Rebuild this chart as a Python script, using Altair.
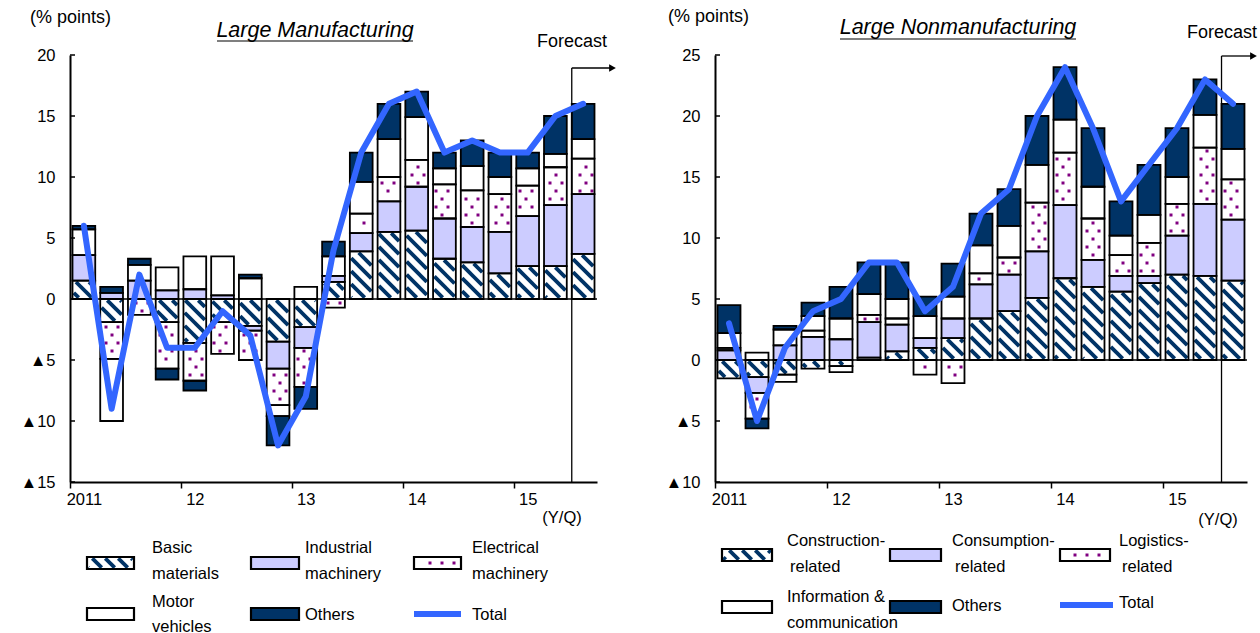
import json
import math

import altair as alt
import pandas as pd

# ---------------------------------------------------------------- data
quarters = [
    "2011Q1", "2011Q2", "2011Q3", "2011Q4",
    "2012Q1", "2012Q2", "2012Q3", "2012Q4",
    "2013Q1", "2013Q2", "2013Q3", "2013Q4",
    "2014Q1", "2014Q2", "2014Q3", "2014Q4",
    "2015Q1", "2015Q2", "2015Q3",
]
year_labels = ["2011", "12", "13", "14", "15"]
forecast_quarter = "2015Q3"

# Large manufacturing: contributions to the DI change (% points)
mfg_basic = [1.5, -1.9, 0.0, -1.9, -3.6, -1.9, -2.2, -3.5, -2.3, 1.4, 3.9, 5.5, 5.6, 3.3, 3.0, 2.1, 2.7, 2.7, 3.7]
mfg_industrial = [2.1, 0.5, 1.5, 0.7, 0.8, 0.3, -0.4, -2.2, -1.7, 0.5, 1.5, 2.5, 3.6, 3.3, 2.9, 3.4, 4.1, 5.0, 4.9]
mfg_electrical = [0.0, -3.0, -1.3, -3.8, -3.1, -2.6, -2.4, -3.0, -3.2, -0.7, 1.6, 2.0, 2.2, 2.8, 3.0, 3.1, 2.5, 3.1, 2.9]
mfg_motor = [2.1, -5.1, 1.3, 1.9, 2.7, 3.2, 1.7, -0.9, 1.0, 1.6, 2.6, 3.1, 3.5, 1.3, 2.0, 1.4, 1.4, 1.1, 1.6]
mfg_others = [0.3, 0.5, 0.5, -0.9, -0.8, 0.0, 0.3, -2.4, -1.8, 1.2, 2.4, 2.9, 2.1, 1.3, 2.1, 2.0, 1.3, 3.1, 2.9]
mfg_total = [6, -9, 2, -4, -4, -1, -3, -12, -8, 4, 12, 16, 17, 12, 13, 12, 12, 15, 16]
mfg_labels = [["Basic", "materials"], ["Industrial", "machinery"], ["Electrical", "machinery"],
              ["Motor", "vehicles"], ["Others"], ["Total"]]

# Large nonmanufacturing
non_construction = [-1.5, -1.4, -1.2, -0.7, -0.5, 0.2, 0.7, 1.0, 1.8, 3.4, 4.0, 5.1, 6.7, 6.0, 5.6, 6.3, 7.0, 6.9, 6.5]
non_consumption = [0.8, -1.3, 1.2, 1.9, 1.7, 2.9, 2.2, 0.8, 1.6, 2.8, 3.0, 3.8, 6.0, 2.2, 1.3, 0.6, 3.2, 5.9, 5.0]
non_logistics = [0.2, -2.1, -0.6, 0.5, -0.5, 0.6, 0.5, -1.2, -1.9, 0.9, 1.4, 4.0, 4.3, 3.4, 1.7, 2.7, 2.6, 4.6, 3.3]
non_info = [1.2, 0.6, 1.3, 1.2, 1.7, 1.7, 1.6, 1.8, 1.8, 2.3, 2.6, 3.1, 2.7, 2.6, 1.6, 2.3, 2.2, 2.7, 2.5]
non_others = [2.3, -0.8, 0.3, 1.1, 2.6, 2.6, 3.0, 1.6, 2.7, 2.6, 3.0, 4.0, 4.3, 4.8, 2.8, 4.1, 4.0, 2.9, 3.7]
non_total = [3, -5, 1, 4, 5, 8, 8, 4, 6, 12, 14, 20, 24, 19, 13, 16, 19, 23, 21]
non_labels = [["Construction-", "related"], ["Consumption-", "related"], ["Logistics-", "related"],
              ["Information &", "communication"], ["Others"], ["Total"]]

# ---------------------------------------------------------------- style
NAVY = "#003366"
LAVENDER = "#CCCCFF"
PURPLE = "#800080"
BLUE = "#3366FF"
FONT = "Liberation Sans"
FILLS = {"hatch": "white", "lav": LAVENDER, "dots": "white", "white": "white", "navy": NAVY}
STYLES = ["hatch", "lav", "dots", "white", "navy"]

BAR_PAD = 0.09          # gap on each side of a bar, in quarters
HATCH_PERIOD = 13       # px between diagonal stripes
HATCH_WIDTH = 3.8
DOT_DX, DOT_DY = 12, 8  # px grid of the dotted fill


def hatch_segments(px0, px1, pt, pb, inset=1.3):
    """Diagonal (top-left to bottom-right) stripes clipped to a pixel box."""
    x0, x1, t, b = px0 + inset, px1 - inset, pt + inset, pb - inset
    out = []
    if x1 - x0 < 0.5 or b - t < 0.5:
        return out
    k0 = math.floor((t - x1) / HATCH_PERIOD)
    k1 = math.ceil((b - x0) / HATCH_PERIOD)
    for k in range(k0, k1 + 1):
        c = k * HATCH_PERIOD
        xa = max(x0, t - c)
        xb = min(x1, b - c)
        if xb - xa > 0.4:
            out.append((xa, xa + c, xb, xb + c))
    return out


def dot_points(px0, px1, pt, pb, inset=2.5, centred=False):
    """Staggered dot grid inside a pixel box (one centred row for small swatches)."""
    out = []
    if centred:
        rows = [((pt + pb) / 2, 0)]
    else:
        r0 = math.ceil((pt + inset) / DOT_DY)
        r1 = math.floor((pb - inset) / DOT_DY)
        rows = [(r * DOT_DY, DOT_DX / 2 if r % 2 else 0) for r in range(r0, r1 + 1)]
    for ry, off in rows:
        c0 = math.ceil((px0 + inset + 2 - off) / DOT_DX) if centred else math.ceil((px0 + inset - off) / DOT_DX)
        c1 = math.floor((px1 - inset - off) / DOT_DX)
        for c in range(c0, c1 + 1):
            out.append((c * DOT_DX + off, ry))
    return out


def one_row():
    return pd.DataFrame({"k": [0]})


def build_panel(cfg):
    W, H = cfg["W"], cfg["H"]
    ymin, ymax = cfg["ymin"], cfg["ymax"]
    ox, oy = cfg["origin"]
    n = len(quarters)
    kx = W / n
    ky = H / (ymax - ymin)

    def px(x):
        return x * kx

    def py(y):
        return (ymax - y) * ky

    def dx(p):
        return p / kx

    def dy(p):
        return ymax - p / ky

    xs = alt.Scale(domain=[0, n], nice=False, zero=False)
    ys = alt.Scale(domain=[ymin, ymax], nice=False, zero=False)

    segs, stripes, dots = [], [], []

    def add_texture(style, bx0, bx1, bt, bb, small=False):
        if style == "hatch":
            for xa, ya, xb, yb in hatch_segments(bx0, bx1, bt, bb):
                stripes.append({"xa": dx(xa), "ya": dy(ya), "xb": dx(xb), "yb": dy(yb)})
        elif style == "dots":
            for qx, qy in dot_points(bx0, bx1, bt, bb, centred=small):
                dots.append({"dx": dx(qx), "dy": dy(qy)})

    for i, q in enumerate(quarters):
        pos = neg = 0.0
        for (name, vals), style in zip(cfg["series"], STYLES):
            v = vals[i]
            if v == 0:
                continue
            if v > 0:
                y0, y1 = pos, pos + v
                pos = y1
            else:
                y0, y1 = neg, neg + v
                neg = y1
            x0, x1 = i + BAR_PAD, i + 1 - BAR_PAD
            segs.append({"quarter": q, "series": name, "value": v,
                         "x0": x0, "x1": x1, "y0": y0, "y1": y1, "fill": FILLS[style]})
            add_texture(style, px(x0), px(x1), py(max(y0, y1)), py(min(y0, y1)))

    # legend swatches (page pixels -> panel data units)
    leg_boxes, leg_lines, leg_text = [], [], []
    for (lines, style, box, lx, lys) in cfg["legend"]:
        bx0, bx1, bt, bb = box[0] - ox, box[1] - ox, box[2] - oy, box[3] - oy
        if style == "line":
            leg_lines.append({"lx0": dx(bx0), "lx1": dx(bx1), "ly": dy(bt)})
        else:
            leg_boxes.append({"x0": dx(bx0), "x1": dx(bx1), "y0": dy(bt), "y1": dy(bb),
                              "fill": FILLS[style]})
            add_texture(style, bx0, bx1, bt, bb, small=True)
        for j, (txt, ly) in enumerate(zip(lines, lys)):
            shift = 3 if (j > 0 and txt == "related") else 0
            leg_text.append({"tx": dx(lx - ox + shift), "ty": dy(ly - oy), "label": txt})

    seg_df = pd.DataFrame(segs)
    box_df = pd.DataFrame(leg_boxes)
    stripe_df = pd.DataFrame(stripes)
    dot_df = pd.DataFrame(dots)
    line_df = pd.DataFrame({"quarter": quarters, "xc": [i + 0.5 for i in range(n)], "total": cfg["total"]})
    tick_df = pd.DataFrame({"tick": cfg["yticks"]})
    q1_index = [i for i, q in enumerate(quarters) if q.endswith("Q1")]

    x_axis = alt.Axis(values=q1_index,
                      labelExpr=f"{json.dumps(year_labels)}[floor(datum.value / 4)]",
                      tickSize=6, tickWidth=1.5, tickColor="black", grid=False,
                      domainColor="black", domainWidth=2, labelFontSize=16.5, labelFont=FONT,
                      labelColor="black", labelPadding=3, labelOffset=kx / 2,
                      labelFlush=False, labelOverlap=False, title=None)
    y_axis = alt.Axis(values=cfg["yticks"],
                      labelExpr="datum.value < 0 ? '▲' + abs(datum.value) : datum.label",
                      ticks=False, tickSize=0, grid=False, domainColor="black", domainWidth=2,
                      labelFontSize=16.5, labelFont=FONT, labelColor="black", labelPadding=15,
                      labelFlush=False, labelOverlap=False, title=None)

    # every layer carries the same axis definition so the merged axis survives
    def X(f):
        return alt.X(f, scale=xs, axis=x_axis)

    def Y(f):
        return alt.Y(f, scale=ys, axis=y_axis)

    layers = []
    if cfg.get("anchor"):
        layers.append(alt.Chart(one_row()).mark_rect(opacity=0).encode(
            x=alt.value(-ox), x2=alt.value(-ox + 1), y=alt.value(-oy), y2=alt.value(-oy + 1)))

    layers.append(alt.Chart(seg_df).mark_rect(strokeWidth=0).encode(
        x=X("x0:Q"), x2="x1:Q", y=Y("y0:Q"), y2="y1:Q",
        fill=alt.Fill("fill:N", scale=None)))
    layers.append(alt.Chart(box_df).mark_rect(strokeWidth=0).encode(
        x=X("x0:Q"), x2="x1:Q", y=Y("y0:Q"), y2="y1:Q", fill=alt.Fill("fill:N", scale=None)))
    layers.append(alt.Chart(stripe_df).mark_rule(color=NAVY, strokeWidth=HATCH_WIDTH, strokeCap="butt").encode(
        x=X("xa:Q"), y=Y("ya:Q"), x2="xb:Q", y2="yb:Q"))
    layers.append(alt.Chart(dot_df).mark_square(color=PURPLE, size=9, opacity=1).encode(
        x=X("dx:Q"), y=Y("dy:Q")))
    layers.append(alt.Chart(seg_df).mark_rect(fillOpacity=0, stroke="black", strokeWidth=1.8).encode(
        x=X("x0:Q"), x2="x1:Q", y=Y("y0:Q"), y2="y1:Q"))
    layers.append(alt.Chart(box_df).mark_rect(fillOpacity=0, stroke="black", strokeWidth=2.2).encode(
        x=X("x0:Q"), x2="x1:Q", y=Y("y0:Q"), y2="y1:Q"))
    layers.append(alt.Chart(pd.DataFrame({"zero": [0]})).mark_rule(color="black", strokeWidth=1.6).encode(
        y=Y("zero:Q"), x=alt.value(0), x2=alt.value(W)))
    layers.append(alt.Chart(tick_df).mark_rule(color="black", strokeWidth=1.5).encode(
        y=Y("tick:Q"), x=alt.value(0), x2=alt.value(5)))

    # forecast marker
    fc_df = pd.DataFrame({"fx": [quarters.index(forecast_quarter) + BAR_PAD]})
    ay, tip = cfg["arrow_y"], cfg["arrow_tip"]
    layers.append(alt.Chart(fc_df).mark_rule(color="black", strokeWidth=1.3).encode(
        x=X("fx:Q"), y=alt.value(ay), y2=alt.value(H)))
    layers.append(alt.Chart(fc_df).mark_rule(color="black", strokeWidth=1.3).encode(
        x=X("fx:Q"), x2=alt.value(tip - 6), y=alt.value(ay)))
    layers.append(alt.Chart(fc_df).mark_point(shape="triangle-right", filled=True, color="black",
                                              size=60, opacity=1).encode(
        x=alt.value(tip - 4.5), y=alt.value(ay)))

    layers.append(alt.Chart(line_df).mark_line(color=BLUE, strokeWidth=6, strokeJoin="round",
                                               strokeCap="round").encode(
        x=X("xc:Q"), y=Y("total:Q")))

    # legend line and labels
    layers.append(alt.Chart(pd.DataFrame(leg_lines)).mark_rule(color=BLUE, strokeWidth=6).encode(
        x=X("lx0:Q"), x2="lx1:Q", y=Y("ly:Q")))
    layers.append(alt.Chart(pd.DataFrame(leg_text)).mark_text(
        align="left", baseline="middle", font=FONT, fontSize=16.5, color="black").encode(
        x=X("tx:Q"), y=Y("ty:Q"), text="label:N"))

    # titles and notes
    for txt, x, y, kw in cfg["texts"]:
        layers.append(alt.Chart(one_row()).mark_text(text=txt, font=FONT, color="black", **kw).encode(
            x=alt.value(x), y=alt.value(y)))
    ux0, ux1, uy = cfg["underline"]
    layers.append(alt.Chart(one_row()).mark_rule(color="black", strokeWidth=1.2).encode(
        x=alt.value(ux0), x2=alt.value(ux1), y=alt.value(uy)))

    return alt.layer(*layers).properties(width=W, height=H)


left = build_panel({
    "W": 527, "H": 427, "ymin": -15, "ymax": 20, "origin": (70, 55), "anchor": True,
    "yticks": [-15, -10, -5, 0, 5, 10, 15, 20],
    "series": [("Basic materials", mfg_basic), ("Industrial machinery", mfg_industrial),
               ("Electrical machinery", mfg_electrical), ("Motor vehicles", mfg_motor),
               ("Others", mfg_others)],
    "total": mfg_total,
    "arrow_y": 13, "arrow_tip": 547,
    "legend": [
        (mfg_labels[0], "hatch", (87, 134, 557, 569), 152, [548, 574]),
        (mfg_labels[1], "lav", (251, 299, 557, 569), 305, [548, 574]),
        (mfg_labels[2], "dots", (414, 461, 557, 569), 472, [548, 574]),
        (mfg_labels[3], "white", (87, 134, 608, 620), 152, [602, 627]),
        (mfg_labels[4], "navy", (251, 299, 608, 620), 305, [615]),
        (mfg_labels[5], "line", (414, 461, 614, 614), 472, [615]),
    ],
    "texts": [
        ("(% points)", -40, -37, {"align": "left", "baseline": "middle", "fontSize": 18}),
        ("Large Manufacturing", 245, -24, {"align": "center", "baseline": "middle",
                                           "fontSize": 21.5, "fontStyle": "italic"}),
        ("Forecast", 502, -13, {"align": "center", "baseline": "middle", "fontSize": 18}),
        ("(Y/Q)", 492, 463, {"align": "center", "baseline": "middle", "fontSize": 16.5}),
    ],
    "underline": (147, 343, -14),
})

right = build_panel({
    "W": 532, "H": 427, "ymin": -10, "ymax": 25, "origin": (715, 55),
    "yticks": [-10, -5, 0, 5, 10, 15, 20, 25],
    "series": [("Construction-related", non_construction), ("Consumption-related", non_consumption),
               ("Logistics-related", non_logistics), ("Information & communication", non_info),
               ("Others", non_others)],
    "total": non_total,
    "arrow_y": 1, "arrow_tip": 543,
    "legend": [
        (non_labels[0], "hatch", (722, 772, 549, 561), 787, [541, 567]),
        (non_labels[1], "lav", (890, 941, 549, 561), 952, [541, 567]),
        (non_labels[2], "dots", (1060, 1110, 549, 561), 1119, [541, 567]),
        (non_labels[3], "white", (722, 772, 601, 613), 787, [597, 623]),
        (non_labels[4], "navy", (890, 941, 601, 613), 952, [606]),
        (non_labels[5], "line", (1060, 1113, 605, 605), 1119, [603]),
    ],
    "texts": [
        ("(% points)", -47, -38, {"align": "left", "baseline": "middle", "fontSize": 18}),
        ("Large Nonmanufacturing", 243, -27, {"align": "center", "baseline": "middle",
                                              "fontSize": 21.5, "fontStyle": "italic"}),
        ("Forecast", 472, -22, {"align": "left", "baseline": "middle", "fontSize": 18}),
        ("(Y/Q)", 503, 465, {"align": "center", "baseline": "middle", "fontSize": 16.5}),
    ],
    "underline": (125, 361, -16),
})

chart = alt.hconcat(left, right, spacing=118, bounds="flush").properties(
    padding=0, background="white"
).configure_view(stroke=None)

chart.save("out.html", embed_options={"renderer": "svg", "actions": False})
